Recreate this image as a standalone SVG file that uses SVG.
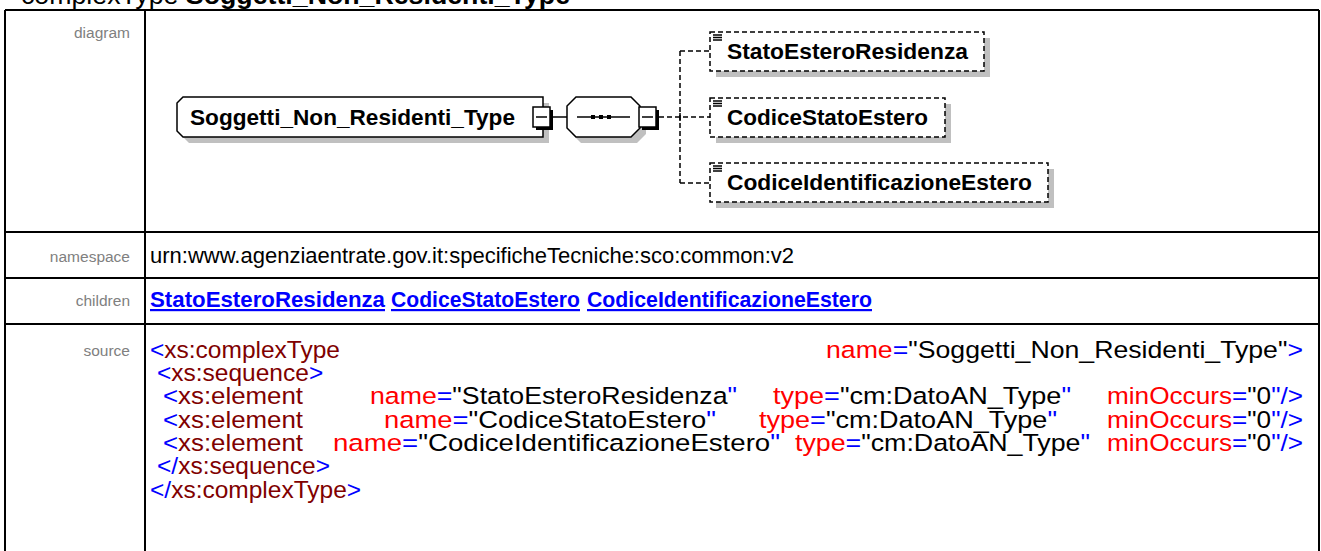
<svg xmlns="http://www.w3.org/2000/svg" width="1321" height="551" viewBox="0 0 1321 551">
<style>
text{font-family:"Liberation Sans",Arial,sans-serif}
.lbl{font-size:15.5px;fill:#808080;text-anchor:end}
.ns{font-size:22px;fill:#000}
.lnk{font-size:22px;font-weight:bold;fill:#0000ff;text-decoration:underline}
.src{font-size:24.5px;fill:#000}
.b{fill:#0000ff}.m{fill:#800000}.r{fill:#ff0000}.k{fill:#000}
.nm{font-size:22px;font-weight:bold;fill:#000}
.shadow{fill:#c0c0c0;stroke:none}
.box{fill:#fff;stroke:#000;stroke-width:1.5}
.opt{fill:#fff;stroke:#000;stroke-width:1.5;stroke-dasharray:5,3}
.dash{fill:none;stroke:#000;stroke-width:1.5;stroke-dasharray:5,3}
.ln{fill:none;stroke:#000;stroke-width:1.5}
.tbl{fill:none;stroke:#000;stroke-width:2}
</style>
<text x="21" y="4" style="font-size:26px" textLength="549" lengthAdjust="spacingAndGlyphs">complexType <tspan font-weight="bold">Soggetti_Non_Residenti_Type</tspan></text>
<g id="table">
<path class="tbl" d="M5,10 H1319 M5,10 V551 M1319,10 V551 M145,10 V551 M5,232 H1319 M5,278 H1319 M5,324 H1319"/>
</g>
<g id="labels">
<text class="lbl" x="130" y="38">diagram</text>
<text class="lbl" x="130" y="262">namespace</text>
<text class="lbl" x="130" y="306">children</text>
<text class="lbl" x="130" y="356">source</text>
</g>
<g id="node-root">
<path class="shadow" d="M189,103 H549 V143 H189 L183,137 V109 Z"/>
<path class="box" d="M183,97 H543 V137 H183 L177,131 V103 Z"/>
<text class="nm" x="190" y="125" textLength="325" lengthAdjust="spacingAndGlyphs">Soggetti_Non_Residenti_Type</text>
<rect x="536" y="110" width="17" height="20" fill="#000"/>
<rect x="533" y="107" width="17" height="20" fill="#fff" stroke="#000" stroke-width="1.5"/>
<line x1="536" y1="117" x2="547" y2="117" stroke="#000" stroke-width="1.5"/>
</g>
<g id="node-sequence">
<path class="shadow" d="M581,103 H637 L646,112 V134 L637,143 H581 L572,134 V112 Z"/>
<path class="box" d="M576,97 H631 L640,106 V128 L631,137 H576 L567,128 V106 Z"/>
<line x1="577" y1="117" x2="630" y2="117" stroke="#000" stroke-width="1.5"/>
<rect x="591" y="115" width="4" height="4" fill="#000"/>
<rect x="599" y="115" width="4" height="4" fill="#000"/>
<rect x="607" y="115" width="4" height="4" fill="#000"/>
<rect x="642" y="110" width="17" height="20" fill="#000"/>
<rect x="639" y="107" width="17" height="20" fill="#fff" stroke="#000" stroke-width="1.5"/>
<line x1="642" y1="117" x2="653" y2="117" stroke="#000" stroke-width="1.5"/>
</g>
<g id="connectors">
<line class="ln" x1="553" y1="117" x2="567" y2="117"/>
<path class="dash" d="M659,117 H710 M680,51 V183 M680,51 H710 M680,183 H710"/>
<line class="ln" x1="680" y1="113" x2="680" y2="121" stroke-width="1"/>
</g>
<g id="node-StatoEsteroResidenza">
<rect class="shadow" x="716" y="38" width="274" height="39"/>
<rect class="opt" x="710" y="32" width="274" height="39"/>
<path class="ln" d="M713,35 H722 M713,37.5 H722 M713,40 H722" stroke-width="1"/>
<text class="nm" x="727" y="59" textLength="241" lengthAdjust="spacingAndGlyphs">StatoEsteroResidenza</text>
</g>
<g id="node-CodiceStatoEstero">
<rect class="shadow" x="716" y="104" width="235" height="39"/>
<rect class="opt" x="710" y="98" width="235" height="39"/>
<path class="ln" d="M713,101 H722 M713,103.5 H722 M713,106 H722" stroke-width="1"/>
<text class="nm" x="727" y="125" textLength="201" lengthAdjust="spacingAndGlyphs">CodiceStatoEstero</text>
</g>
<g id="node-CodiceIdentificazioneEstero">
<rect class="shadow" x="716" y="169" width="338" height="39"/>
<rect class="opt" x="710" y="163" width="338" height="39"/>
<path class="ln" d="M713,166 H722 M713,168.5 H722 M713,171 H722" stroke-width="1"/>
<text class="nm" x="727" y="190" textLength="305" lengthAdjust="spacingAndGlyphs">CodiceIdentificazioneEstero</text>
</g>
<g id="content">
<text class="ns" x="150" y="263">urn:www.agenziaentrate.gov.it:specificheTecniche:sco:common:v2</text>
<text class="lnk" x="150" y="307" textLength="235" lengthAdjust="spacingAndGlyphs">StatoEsteroResidenza</text>
<text class="lnk" x="391" y="307" textLength="189" lengthAdjust="spacingAndGlyphs">CodiceStatoEstero</text>
<text class="lnk" x="587" y="307" textLength="285" lengthAdjust="spacingAndGlyphs">CodiceIdentificazioneEstero</text>
<text class="src" x="150" y="358"><tspan class="b">&lt;</tspan><tspan class="m">xs:complexType</tspan></text>
<text class="src" x="826" y="358" textLength="477" lengthAdjust="spacingAndGlyphs"><tspan class="r">name</tspan><tspan class="b">=</tspan><tspan class="k">"Soggetti_Non_Residenti_Type"</tspan><tspan class="b">&gt;</tspan></text>
<text class="src" x="157" y="381"><tspan class="b">&lt;</tspan><tspan class="m">xs:sequence</tspan><tspan class="b">&gt;</tspan></text>
<text class="src" x="163" y="404" textLength="140" lengthAdjust="spacingAndGlyphs"><tspan class="b">&lt;</tspan><tspan class="m">xs:element</tspan></text>
<text class="src" x="370" y="404" textLength="367" lengthAdjust="spacingAndGlyphs"><tspan class="r">name</tspan><tspan class="b">=</tspan><tspan class="k">"StatoEsteroResidenza</tspan><tspan class="b">"</tspan></text>
<text class="src" x="773" y="404" textLength="298" lengthAdjust="spacingAndGlyphs"><tspan class="r">type</tspan><tspan class="b">=</tspan><tspan class="k">"cm:DatoAN_Type</tspan><tspan class="b">"</tspan></text>
<text class="src" x="1107" y="404" textLength="196" lengthAdjust="spacingAndGlyphs"><tspan class="r">minOccurs</tspan><tspan class="b">=</tspan><tspan class="k">"0</tspan><tspan class="b">"/&gt;</tspan></text>
<text class="src" x="163" y="428" textLength="140" lengthAdjust="spacingAndGlyphs"><tspan class="b">&lt;</tspan><tspan class="m">xs:element</tspan></text>
<text class="src" x="384" y="428" textLength="332" lengthAdjust="spacingAndGlyphs"><tspan class="r">name</tspan><tspan class="b">=</tspan><tspan class="k">"CodiceStatoEstero</tspan><tspan class="b">"</tspan></text>
<text class="src" x="759" y="428" textLength="298" lengthAdjust="spacingAndGlyphs"><tspan class="r">type</tspan><tspan class="b">=</tspan><tspan class="k">"cm:DatoAN_Type</tspan><tspan class="b">"</tspan></text>
<text class="src" x="1107" y="428" textLength="196" lengthAdjust="spacingAndGlyphs"><tspan class="r">minOccurs</tspan><tspan class="b">=</tspan><tspan class="k">"0</tspan><tspan class="b">"/&gt;</tspan></text>
<text class="src" x="163" y="451" textLength="140" lengthAdjust="spacingAndGlyphs"><tspan class="b">&lt;</tspan><tspan class="m">xs:element</tspan></text>
<text class="src" x="333" y="451" textLength="447" lengthAdjust="spacingAndGlyphs"><tspan class="r">name</tspan><tspan class="b">=</tspan><tspan class="k">"CodiceIdentificazioneEstero</tspan><tspan class="b">"</tspan></text>
<text class="src" x="795" y="451" textLength="295" lengthAdjust="spacingAndGlyphs"><tspan class="r">type</tspan><tspan class="b">=</tspan><tspan class="k">"cm:DatoAN_Type</tspan><tspan class="b">"</tspan></text>
<text class="src" x="1107" y="451" textLength="196" lengthAdjust="spacingAndGlyphs"><tspan class="r">minOccurs</tspan><tspan class="b">=</tspan><tspan class="k">"0</tspan><tspan class="b">"/&gt;</tspan></text>
<text class="src" x="157" y="474"><tspan class="b">&lt;/</tspan><tspan class="m">xs:sequence</tspan><tspan class="b">&gt;</tspan></text>
<text class="src" x="150" y="498"><tspan class="b">&lt;/</tspan><tspan class="m">xs:complexType</tspan><tspan class="b">&gt;</tspan></text>
</g>
</svg>
